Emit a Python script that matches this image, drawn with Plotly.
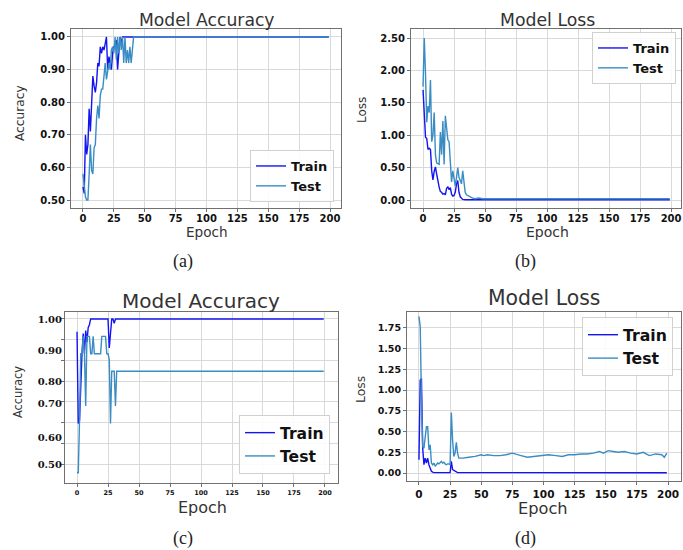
import plotly.graph_objects as go

W, H = 683, 550

# ---------------- data ----------------
# (a) Model Accuracy
a_train_ep = list(range(0, 33)) + [199]
a_train = [0.54, 0.52, 0.70, 0.64, 0.67, 0.78, 0.71, 0.80, 0.88, 0.85, 0.83, 0.86,
           0.92, 0.91, 0.97, 0.95, 0.97, 0.96, 0.98, 1.00, 0.90, 0.94, 0.92, 0.90,
           0.95, 0.97, 0.97, 0.99, 0.90, 0.97, 1.00, 0.98, 1.00, 1.00]
a_test_ep = list(range(0, 42)) + [199]
a_test = [0.58, 0.55, 0.51, 0.50, 0.50, 0.58, 0.67, 0.59, 0.58, 0.66, 0.67, 0.75,
          0.79, 0.75, 0.82, 0.84, 0.84, 0.88, 0.92, 0.87, 0.89, 0.92, 0.90, 0.96,
          0.97, 0.95, 1.00, 0.93, 1.00, 0.95, 1.00, 0.96, 1.00, 0.92, 1.00, 0.92,
          0.96, 0.92, 0.97, 0.92, 0.96, 1.00, 1.00]

# (b) Model Loss
b_train_ep = list(range(0, 33)) + [34, 199]
b_train = [1.70, 1.30, 0.97, 0.95, 0.78, 0.80, 0.78, 0.45, 0.31, 0.44, 0.51, 0.40,
           0.28, 0.20, 0.13, 0.12, 0.09, 0.10, 0.08, 0.18, 0.20, 0.16, 0.19, 0.09,
           0.06, 0.07, 0.12, 0.25, 0.30, 0.12, 0.05, 0.02, 0.01, 0.005, 0.005]
b_test_ep = list(range(0, 39)) + [40, 42, 45, 48, 55, 62, 65, 75, 87, 90, 100, 103,
                                  115, 120, 123, 135, 145, 148, 160, 175, 178, 190, 197, 199]
b_test = [1.75, 2.50, 1.95, 1.20, 1.45, 1.35, 1.85, 0.90, 1.00, 1.35, 0.70, 0.57,
          0.56, 0.55, 1.05, 0.70, 1.22, 0.55, 1.30, 1.05, 0.93, 0.90, 0.62, 0.28,
          0.45, 0.30, 0.22, 0.35, 0.50, 0.35, 0.30, 0.25, 0.45, 0.22, 0.12, 0.08,
          0.07, 0.05, 0.04, 0.03, 0.02, 0.03, 0.02, 0.02, 0.03, 0.02, 0.02, 0.03,
          0.02, 0.03, 0.02, 0.02, 0.03, 0.02, 0.02, 0.03, 0.02, 0.02, 0.03, 0.02,
          0.02, 0.03, 0.02]

# (c) Model Accuracy
c_train_ep = list(range(0, 12)) + [25, 26, 27, 28, 29, 30, 31, 199]
c_train = [0.956, 0.64, 0.65, 0.80, 0.88, 0.95, 0.88, 0.96, 0.92, 0.97, 0.98, 1.00,
           1.00, 0.90, 0.95, 1.00, 1.00, 0.985, 1.00, 1.00]
c_test_ep = list(range(0, 33)) + [199]
c_test = [0.47, 0.47, 0.65, 0.88, 0.88, 0.94, 0.88, 0.70, 0.94, 0.94, 0.94, 0.88,
          0.88, 0.94, 0.88, 0.88, 0.88, 0.88, 0.88, 0.88, 0.94, 0.94, 0.94, 0.94,
          0.88, 0.88, 0.86, 0.64, 0.82, 0.82, 0.82, 0.70, 0.82, 0.82]

# (d) Model Loss
d_train_ep = list(range(0, 13)) + [25, 26, 27, 28, 29, 30, 31, 199]
d_train = [0.16, 1.12, 1.14, 0.30, 0.10, 0.18, 0.12, 0.18, 0.10, 0.06, 0.02, 0.01,
           0.005, 0.005, 0.14, 0.04, 0.03, 0.02, 0.02, 0.005, 0.003]
d_test_ep = list(range(0, 34)) + [35, 40, 45, 50, 52, 55, 60, 65, 70, 75, 78, 82, 87,
                                  92, 98, 104, 110, 115, 120, 125, 130, 135, 140, 145,
                                  148, 152, 156, 160, 165, 170, 175, 180, 185, 190, 195,
                                  197, 199]
d_test = [1.89, 1.77, 0.90, 0.32, 0.30, 0.45, 0.56, 0.56, 0.28, 0.34, 0.12, 0.10,
          0.12, 0.08, 0.10, 0.12, 0.11, 0.12, 0.14, 0.12, 0.13, 0.11, 0.10, 0.11,
          0.11, 0.10, 0.73, 0.40, 0.20, 0.24, 0.37, 0.24, 0.18, 0.18, 0.18, 0.19,
          0.20, 0.22, 0.21, 0.22, 0.21, 0.21, 0.22, 0.24, 0.23, 0.21, 0.19, 0.20,
          0.21, 0.22, 0.21, 0.20, 0.22, 0.22, 0.23, 0.23, 0.24, 0.26, 0.24, 0.27,
          0.26, 0.25, 0.26, 0.24, 0.23, 0.25, 0.21, 0.23, 0.22, 0.19, 0.24]

x_ticks = [0, 25, 50, 75, 100, 125, 150, 175, 200]
acc_ticks = [0.5, 0.6, 0.7, 0.8, 0.9, 1.0]
acc_labels = ["0.50", "0.60", "0.70", "0.80", "0.90", "1.00"]
loss_b_ticks = [0.0, 0.5, 1.0, 1.5, 2.0, 2.5]
loss_b_labels = ["0.00", "0.50", "1.00", "1.50", "2.00", "2.50"]
loss_d_ticks = [0.0, 0.25, 0.5, 0.75, 1.0, 1.25, 1.5, 1.75]
loss_d_labels = ["0.00", "0.25", "0.50", "0.75", "1.00", "1.25", "1.50", "1.75"]
# panel (c) label positions (irregular in the original) and its grid
c_label_pos = [0.497, 0.593, 0.71, 0.786, 0.89, 0.998]
c_grid_pos = [0.5, 0.571, 0.643, 0.714, 0.786, 0.857, 0.929, 1.0]

TRAIN = "#1414f0"
TEST = "#3a8cc4"

fig = go.Figure()

panels = [
    ("", a_train_ep, a_train, a_test_ep, a_test, "legend"),
    ("2", b_train_ep, b_train, b_test_ep, b_test, "legend2"),
    ("3", c_train_ep, c_train, c_test_ep, c_test, "legend3"),
    ("4", d_train_ep, d_train, d_test_ep, d_test, "legend4"),
]
for sfx, tre, trv, tee, tev, leg in panels:
    fig.add_trace(go.Scatter(x=tre, y=trv, mode="lines", name="Train",
                             line=dict(color=TRAIN, width=1.4),
                             xaxis="x" + sfx, yaxis="y" + sfx, legend=leg))
    fig.add_trace(go.Scatter(x=tee, y=tev, mode="lines", name="Test",
                             line=dict(color=TEST, width=1.4),
                             xaxis="x" + sfx, yaxis="y" + sfx, legend=leg))


def xd(p0, p1):
    return [p0 / W, p1 / W]


def yd(p0, p1):
    return [1 - p1 / H, 1 - p0 / H]


GRID = "#d9d9d9"
LINE = "#707070"


def axis(domain, rng, tickvals, ticktext, font, anchor, ticklen=3, standoff=0):
    return dict(domain=domain, range=rng, tickmode="array", tickvals=tickvals,
                ticktext=ticktext, tickfont=font, showline=True, mirror=True,
                linecolor=LINE, linewidth=1, showgrid=True, gridcolor=GRID,
                gridwidth=1.2, zeroline=False, ticks="outside", ticklen=ticklen,
                tickcolor=LINE, anchor=anchor, ticklabelstandoff=standoff)


sans_b = lambda s: dict(family="DejaVu Sans", size=s, color="#111", weight="bold")
serif_b = lambda s: dict(family="DejaVu Serif", size=s, color="#111", weight="bold")

xt = [str(v) for v in x_ticks]

layout = dict(
    width=W, height=H, margin=dict(l=0, r=0, t=0, b=0),
    paper_bgcolor="white", plot_bgcolor="white", showlegend=True,
    xaxis=axis(xd(71, 341), [-9.7, 208.9], x_ticks, xt, sans_b(10), "y", standoff=-2),
    yaxis=axis(yd(29, 208), [0.4755, 1.0245], acc_ticks, acc_labels, sans_b(10), "x"),
    xaxis2=axis(xd(411, 681), [-9.7, 208], x_ticks, xt, sans_b(10), "y2", standoff=-2),
    yaxis2=axis(yd(29, 208), [-0.123, 2.639], loss_b_ticks, loss_b_labels, sans_b(10), "x2"),
    xaxis3=axis(xd(65, 338), [-9.7, 210.5], x_ticks, xt, sans_b(6.5), "y3"),
    yaxis3=dict(domain=yd(312, 483), range=[0.4345, 1.024], tickmode="array",
                tickvals=c_label_pos, ticktext=acc_labels, tickfont=serif_b(10),
                showline=True, mirror=True, linecolor=LINE, linewidth=1,
                showgrid=False, zeroline=False, ticks="", anchor="x3",
                minor=dict(tickmode="array", tickvals=c_grid_pos, showgrid=True,
                           gridcolor=GRID, gridwidth=1.2, ticks="outside",
                           ticklen=3, tickcolor=LINE)),
    xaxis4=axis(xd(407, 681), [-9.6, 210.4], x_ticks, xt, sans_b(10.5), "y4"),
    yaxis4=axis(yd(312, 481), [-0.0966, 1.943], loss_d_ticks, loss_d_labels, sans_b(9.5), "x4"),
)

leg_common = dict(bgcolor="rgba(255,255,255,0.85)", bordercolor="#d0d0d0",
                  borderwidth=1, xref="paper", yref="paper", tracegroupgap=0)
layout["legend"] = dict(x=334 / W, y=1 - 202 / H, xanchor="right", yanchor="bottom",
                        font=sans_b(13), **leg_common)
layout["legend2"] = dict(x=676 / W, y=1 - 32 / H, xanchor="right", yanchor="top",
                         font=sans_b(13), **leg_common)
layout["legend3"] = dict(x=330 / W, y=1 - 474 / H, xanchor="right", yanchor="bottom",
                         font=sans_b(15.6), **leg_common)
layout["legend4"] = dict(x=673 / W, y=1 - 317 / H, xanchor="right", yanchor="top",
                         font=sans_b(15.7), **leg_common)

fig.update_layout(**layout)


def note(text, px, py, size, family="DejaVu Sans", color="#333", angle=0):
    fig.add_annotation(text=text, x=px / W, y=1 - py / H, xref="paper", yref="paper",
                       showarrow=False, xanchor="center", yanchor="middle",
                       textangle=angle, font=dict(family=family, size=size, color=color))


# titles
note("Model Accuracy", 207, 20, 17.2)
note("Model Loss", 547, 20, 17.3)
note("Model Accuracy", 201, 301, 20)
note("Model Loss", 544, 298, 20.4)
# axis labels
note("Epoch", 207, 232, 13.6)
note("Epoch", 547, 232, 14)
note("Epoch", 202, 507, 16)
note("Epoch", 543, 508, 16.2)
note("Accuracy", 20, 113, 12.2, angle=-90)
note("Loss", 362, 110, 12, angle=-90)
note("Accuracy", 18, 392, 11.4, angle=-90)
note("Loss", 360, 390, 12.4, angle=-90)
# captions
for t, px, py in [("(a)", 183, 261), ("(b)", 525, 261), ("(c)", 183, 538), ("(d)", 525, 538)]:
    note(t, px, py, 18, family="Liberation Serif", color="#222")

fig.write_html(
    "out.html",
    config={"displayModeBar": False},
    post_script="document.body.style.margin='0';document.body.style.overflow='hidden';",
)
